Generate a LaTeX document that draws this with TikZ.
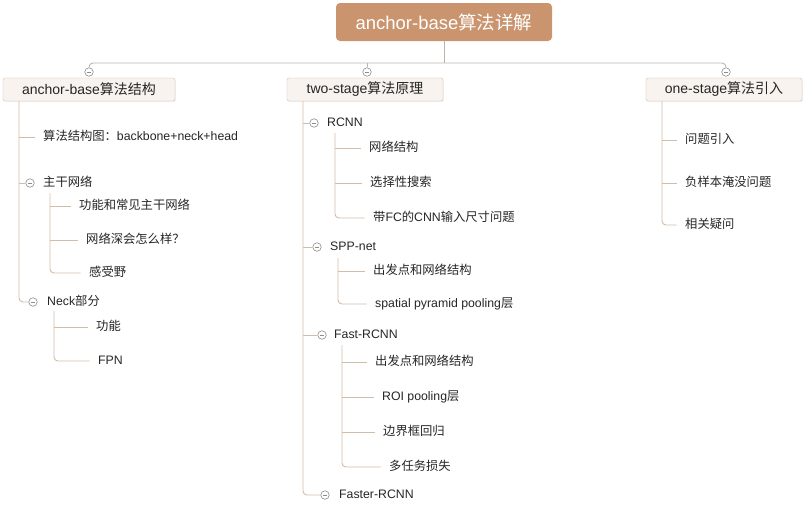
\documentclass[tikz,border=0pt]{standalone}
\usepackage{fontspec}
\setmainfont{Liberation Sans}
\newfontfamily\cjkfont{Noto Sans CJK SC}
\newcommand\zh[1]{{\cjkfont #1}}
\usetikzlibrary{shadows}
\definecolor{roottan}{RGB}{201,148,110}
\definecolor{boxfill}{RGB}{248,243,238}
\definecolor{boxline}{RGB}{214,194,178}
\definecolor{conncol}{RGB}{210,188,168}
\definecolor{topcol}{RGB}{190,180,172}
\definecolor{txt}{RGB}{38,38,38}
\definecolor{mkcol}{RGB}{140,140,140}
\begin{document}
\begin{tikzpicture}[x=1pt,y=-1pt,
  rootbox/.style={draw=none, fill=roottan, rounded corners=4pt, text=white,
    font=\fontsize{18.5}{22}\selectfont, minimum width=216pt, minimum height=38pt, inner sep=0pt},
  branchbox/.style={draw=boxline, fill=boxfill, rounded corners=2pt, text=txt,
    font=\fontsize{14}{17}\selectfont, minimum height=23pt, inner sep=0pt,
    drop shadow={opacity=0.12, shadow xshift=0.8pt, shadow yshift=-1pt}},
  item/.style={anchor=west, xshift=-8.5pt, inner xsep=8.5pt, inner ysep=2pt, text=txt,
    font=\fontsize{12.3}{15}\selectfont, text height=9.5pt, text depth=2.5pt},
  marker/.style={circle, draw=mkcol, fill=white, line width=0.6pt, minimum size=8.5pt, inner sep=0pt,
    path picture={\draw[mkcol, line width=0.6pt] ([xshift=-2.4pt]path picture bounding box.center) -- ([xshift=2.4pt]path picture bounding box.center);}},
  conn/.style={draw=conncol, line width=0.9pt},
  topconn/.style={draw=topcol, line width=0.9pt},
]
\useasboundingbox (0,0) rectangle (812,507);
\fill[white] (0,0) rectangle (812,507);

% root and branches
\node[rootbox] (root) at (444,22) {anchor-base\zh{算法详解}};
\node[branchbox, minimum width=172pt] (b1) at (89,89.5) {anchor-base\zh{算法结构}};
\node[branchbox, minimum width=156pt] (b2) at (365,89.5) {two-stage\zh{算法原理}};
\node[branchbox, minimum width=156pt] (b3) at (724,89.5) {one-stage\zh{算法引入}};
\node[marker] (m1) at (89,72) {};
\node[marker] (m2) at (367,72) {};
\node[marker] (m3) at (726,72) {};
\coordinate (rj) at (444,63);
\draw[topconn] (root.south) -- (rj);
\draw[topconn, rounded corners=4pt] (m1.north) |- (rj) -| (m3.north);
\draw[topconn] (m2.north) -- (m2.north |- rj);

% left branch
\coordinate (Lt) at (19,101);
\node[item] (l1) at (43,137) {\zh{算法结构图：}backbone+neck+head};
\node[marker] (l2m) at (30,183) {};
\node[item] (l2) at (43,183) {\zh{主干网络}};
\coordinate (l2s) at (50,193);
\node[item] (l21) at (79,206) {\zh{功能和常见主干网络}};
\node[item] (l22) at (86,240) {\zh{网络深会怎么样？}};
\node[item] (l23) at (89,273) {\zh{感受野}};
\node[marker] (l3m) at (33,302) {};
\node[item] (l3) at (47,302) {Neck\zh{部分}};
\coordinate (l3s) at (54,311);
\node[item] (l31) at (96,327) {\zh{功能}};
\node[item] (l32) at (98,361) {FPN};

\draw[conn] (Lt |- l1.west) -- (l1.west);
\draw[conn] (Lt |- l2m.west) -- (l2m.west);
\draw[conn, rounded corners=4pt] (Lt) |- (l3m.west);
\draw[conn] (l2s |- l21.west) -- (l21.west);
\draw[conn] (l2s |- l22.west) -- (l22.west);
\draw[conn, rounded corners=4pt] (l2s) |- (l23.west);
\draw[conn] (l3s |- l31.west) -- (l31.west);
\draw[conn, rounded corners=4pt] (l3s) |- (l32.west);

% middle branch
\coordinate (Mt) at (303,101);
\node[marker] (r1m) at (314,123) {};
\node[item] (r1) at (327,123) {RCNN};
\coordinate (r1s) at (335,133);
\node[item] (r11) at (369,148) {\zh{网络结构}};
\node[item] (r12) at (370,183) {\zh{选择性搜索}};
\node[item] (r13) at (373,218) {\zh{带}FC\zh{的}CNN\zh{输入尺寸问题}};
\node[marker] (r2m) at (317,247) {};
\node[item] (r2) at (330,247) {SPP-net};
\coordinate (r2s) at (338,258);
\node[item] (r21) at (373,271) {\zh{出发点和网络结构}};
\node[item] (r22) at (375,304) {spatial pyramid pooling\zh{层}};
\node[marker] (r3m) at (322,335) {};
\node[item] (r3) at (334,335) {Fast-RCNN};
\coordinate (r3s) at (342,345);
\node[item] (r31) at (375,362) {\zh{出发点和网络结构}};
\node[item] (r32) at (382,397) {ROI pooling\zh{层}};
\node[item] (r33) at (383,432) {\zh{边界框回归}};
\node[item] (r34) at (389,467) {\zh{多任务损失}};
\node[marker] (r4m) at (325,495) {};
\node[item] (r4) at (339,495) {Faster-RCNN};

\draw[conn] (Mt |- r1m.west) -- (r1m.west);
\draw[conn] (Mt |- r2m.west) -- (r2m.west);
\draw[conn] (Mt |- r3m.west) -- (r3m.west);
\draw[conn, rounded corners=4pt] (Mt) |- (r4m.west);
\draw[conn] (r1s |- r11.west) -- (r11.west);
\draw[conn] (r1s |- r12.west) -- (r12.west);
\draw[conn, rounded corners=4pt] (r1s) |- (r13.west);
\draw[conn] (r2s |- r21.west) -- (r21.west);
\draw[conn, rounded corners=4pt] (r2s) |- (r22.west);
\draw[conn] (r3s |- r31.west) -- (r31.west);
\draw[conn] (r3s |- r32.west) -- (r32.west);
\draw[conn] (r3s |- r33.west) -- (r33.west);
\draw[conn, rounded corners=4pt] (r3s) |- (r34.west);

% right branch
\coordinate (Rt) at (662,101);
\node[item] (q1) at (685,140) {\zh{问题引入}};
\node[item] (q2) at (685,183) {\zh{负样本淹没问题}};
\node[item] (q3) at (685,225) {\zh{相关疑问}};
\draw[conn] (Rt |- q1.west) -- (q1.west);
\draw[conn] (Rt |- q2.west) -- (q2.west);
\draw[conn, rounded corners=4pt] (Rt) |- (q3.west);
\end{tikzpicture}
\end{document}
